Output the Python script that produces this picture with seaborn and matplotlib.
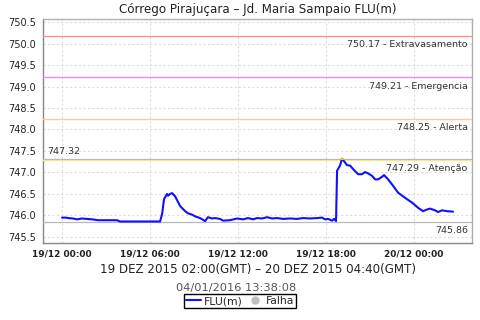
import numpy as np
import pandas as pd
import matplotlib
matplotlib.use("Agg")
import matplotlib.pyplot as plt
import matplotlib.dates as mdates
import matplotlib.transforms as mtransforms
from matplotlib.lines import Line2D
from matplotlib.patches import Rectangle
import seaborn as sns

# ---- data (hours after 19/12/2015 00:00 local, level in m) ----
hours = [0.00, 0.27, 0.41, 0.75, 1.02, 1.36, 1.70, 2.05, 2.45, 3.00, 3.75, 3.95,
         4.60, 5.30, 6.00, 6.68, 6.82, 6.95, 7.16, 7.23, 7.36, 7.50, 7.70, 8.05,
         8.39, 8.59, 8.86, 9.07, 9.41, 9.75, 9.95, 10.23, 10.43, 10.77, 10.98,
         11.45, 11.93, 12.34, 12.68, 13.02, 13.30, 13.64, 13.98, 14.32, 14.66,
         15.07, 15.55, 16.02, 16.43, 16.91, 17.39, 17.73, 17.93, 18.14, 18.41,
         18.55, 18.68, 18.75, 18.95, 19.09, 19.30, 19.43, 19.64, 19.84, 20.18,
         20.45, 20.66, 20.86, 21.14, 21.34, 21.55, 21.82, 21.95, 22.23, 22.57,
         22.91, 23.39, 23.86, 24.27, 24.61, 24.89, 25.09, 25.43, 25.64, 25.91,
         26.25, 26.66]
levels = [745.95, 745.95, 745.94, 745.93, 745.91, 745.93, 745.92, 745.91, 745.89,
          745.89, 745.89, 745.86, 745.86, 745.86, 745.86, 745.86, 746.03, 746.38,
          746.50, 746.46, 746.50, 746.52, 746.45, 746.22, 746.10, 746.05, 746.02,
          745.98, 745.94, 745.87, 745.96, 745.93, 745.94, 745.92, 745.88, 745.89,
          745.93, 745.91, 745.94, 745.91, 745.94, 745.93, 745.96, 745.93, 745.94,
          745.92, 745.93, 745.92, 745.94, 745.93, 745.94, 745.95, 745.91, 745.92,
          745.88, 745.92, 745.87, 747.04, 747.16, 747.32, 747.23, 747.17, 747.16,
          747.08, 746.96, 746.96, 747.01, 746.98, 746.92, 746.84, 746.84, 746.90,
          746.94, 746.84, 746.69, 746.53, 746.41, 746.30, 746.18, 746.10, 746.14,
          746.16, 746.12, 746.08, 746.12, 746.10, 746.09]

threshold_values = [750.17, 749.21, 748.25, 747.29]
threshold_names = ["Extravasamento", "Emergencia", "Alerta", "Atenção"]
threshold_colors = ["#ff9090", "#ee88ee", "#ffc8a0", "#ffee80"]
max_value = 747.32
min_value = 745.86

yticks = [745.5, 746.0, 746.5, 747.0, 747.5, 748.0, 748.5, 749.0, 749.5, 750.0, 750.5]
xtick_hours = [0, 6, 12, 18, 24]

title = "Córrego Pirajuçara – Jd. Maria Sampaio FLU(m)"
xlabel = "19 DEZ 2015 02:00(GMT) – 20 DEZ 2015 04:40(GMT)"
stamp = "04/01/2016 13:38:08"

# ---- build frame ----
t0 = pd.Timestamp("2015-12-19 00:00")
df = pd.DataFrame({"time": t0 + pd.to_timedelta(hours, unit="h"), "FLU(m)": levels})

sns.set_theme(style="white")
plt.rcParams["font.family"] = ["DejaVu Sans"]

fig = plt.figure(figsize=(4.8, 3.2), dpi=100)
ax = fig.add_axes([43 / 480, 1 - 243 / 320, (472 - 43) / 480, (243 - 19) / 320])

sns.lineplot(data=df, x="time", y="FLU(m)", ax=ax, color="#1010ff", lw=1.5, zorder=5)

xmin = t0 + pd.Timedelta(hours=-1.3)
xmax = t0 + pd.Timedelta(hours=27.95)
ax.set_xlim(xmin, xmax)
ax.set_ylim(745.36, 750.57)

# yellow tip above attention level
tip = ax.plot(df["time"], df["FLU(m)"], color="#f0d000", lw=1.5, zorder=6)[0]
x0n = mdates.date2num(xmin)
x1n = mdates.date2num(xmax)
clip = Rectangle((x0n, threshold_values[3]), x1n - x0n, 5, transform=ax.transData)
tip.set_clip_path(clip)

# threshold lines
blend = mtransforms.blended_transform_factory(ax.transAxes, ax.transData)
for v, n, c in zip(threshold_values, threshold_names, threshold_colors):
    ax.axhline(v, color=c, lw=1.0, zorder=3)
    ax.annotate(f"{v:.2f} - {n}", xy=(0.99, v), xycoords=blend, xytext=(0, -3),
                textcoords="offset points", ha="right", va="top", fontsize=6.8,
                color="#333333")
ax.axhline(max_value, color="#b8b8b8", lw=0.9, zorder=3)
ax.annotate(f"{max_value:.2f}", xy=(0.01, max_value), xycoords=blend, xytext=(0, 2),
            textcoords="offset points", ha="left", va="bottom", fontsize=6.8,
            color="#333333")
ax.axhline(min_value, color="#b8b8b8", lw=0.9, zorder=3)
ax.annotate(f"{min_value:.2f}", xy=(0.99, min_value), xycoords=blend, xytext=(0, -3),
            textcoords="offset points", ha="right", va="top", fontsize=6.8,
            color="#333333")

# ticks / grid
ax.set_yticks(yticks)
ax.set_yticklabels([f"{v:.1f}" for v in yticks])
ax.set_xticks([t0 + pd.Timedelta(hours=h) for h in xtick_hours])
ax.xaxis.set_major_formatter(mdates.DateFormatter("%d/%m %H:%M"))
ax.grid(True, color="#dcdcdc", lw=0.8, linestyle=(0, (2, 2)))
ax.tick_params(axis="both", which="both", direction="out", length=3, width=0.8,
               color="#888888", labelsize=7, labelcolor="#222222", pad=2)
ax.tick_params(axis="x", labelsize=6.5)
for lab in ax.get_xticklabels():
    lab.set_fontweight("bold")
ax.set_xlabel("")
ax.set_ylabel("")
for s in ["top", "right"]:
    ax.spines[s].set_color("#b0b0b0")
    ax.spines[s].set_linewidth(1.0)
for s in ["left", "bottom"]:
    ax.spines[s].set_color("#888888")
    ax.spines[s].set_linewidth(1.0)

# texts
fig.text(257.5 / 480, 1 - 9 / 320, title, ha="center", va="center", fontsize=8.6,
         color="#222222")
fig.text(257.5 / 480, 1 - 269 / 320, xlabel, ha="center", va="center", fontsize=8.6,
         color="#222222")
fig.text(236 / 480, 1 - 288 / 320, stamp, ha="center", va="center", fontsize=8.2,
         color="#555555")

handles = [Line2D([], [], color="#1010ff", lw=1.5),
           Line2D([], [], color="#c0c0c0", marker="o", lw=0, markersize=5)]
leg = fig.legend(handles, ["FLU(m)", "Falha"], loc="center",
                 bbox_to_anchor=(240 / 480, 1 - 301 / 320), ncol=2, fontsize=7.8,
                 frameon=True, fancybox=False, edgecolor="black", framealpha=1,
                 handlelength=1.4, handletextpad=0.3, columnspacing=0.4,
                 borderpad=0.2, borderaxespad=0)
leg.get_frame().set_linewidth(1.0)

fig.savefig("out.png", dpi=100)
